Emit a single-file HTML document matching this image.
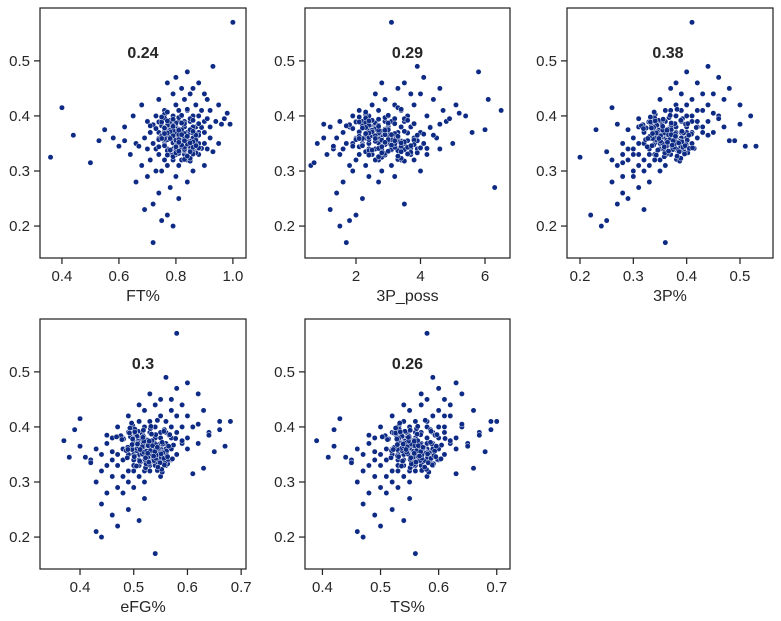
<!DOCTYPE html>
<html><head><meta charset="utf-8">
<style>
html,body{margin:0;padding:0;background:#fff;}
svg{display:block;font-family:"Liberation Sans",sans-serif;}
</style></head>
<body>
<svg id="chart" width="781" height="621" viewBox="0 0 781 621"></svg>
<script>
const yVals=[0.57,0.17,0.49,0.48,0.47,0.46,0.46,0.45,0.45,0.44,
0.44,0.44,0.43,0.43,0.43,0.42,0.42,0.42,0.42,0.41,
0.41,0.41,0.41,0.41,0.40,0.40,0.40,0.40,0.40,0.40,
0.39,0.39,0.39,0.39,0.39,0.39,0.39,0.38,0.38,0.38,
0.38,0.38,0.38,0.38,0.38,0.37,0.37,0.37,0.37,0.37,
0.37,0.37,0.37,0.37,0.36,0.36,0.36,0.36,0.36,0.36,
0.36,0.36,0.36,0.36,0.35,0.35,0.35,0.35,0.35,0.35,
0.35,0.35,0.35,0.35,0.34,0.34,0.34,0.34,0.34,0.34,
0.34,0.34,0.33,0.33,0.33,0.33,0.33,0.33,0.33,0.32,
0.32,0.32,0.32,0.32,0.31,0.31,0.31,0.31,0.30,0.30,
0.30,0.29,0.29,0.28,0.28,0.27,0.26,0.25,0.24,0.23,
0.22,0.21,0.20,0.415,0.395,0.375,0.355,0.345,0.325,0.365,
0.385,0.405,0.335,0.315,0.355,0.365,0.375,0.345,0.385,0.395,
0.363,0.338,0.355,0.371,0.349,0.386,0.365,0.342,0.376,0.358,
0.321,0.372,0.344,0.395,0.357,0.368,0.333,0.381,0.362,0.347,
0.376,0.354,0.391,0.366,0.343,0.359,0.385,0.337,0.374,0.351,
0.362,0.346,0.403,0.369,0.329,0.378,0.355,0.387,0.341,0.364,
0.373,0.339,0.352,0.382,0.367,0.326,0.358,0.392,0.345,0.371,
0.357,0.378,0.334,0.361,0.349,0.389,0.366,0.341,0.376,0.353,
0.364,0.397,0.359,0.318,0.372,0.347,0.384,0.356,0.369,0.337,
0.412,0.351,0.375,0.363,0.343,0.388,0.332,0.368,0.354,0.379,
0.346,0.361,0.394,0.323,0.371,0.357,0.382,0.338,0.365,0.348,
0.376,0.354,0.407,0.362,0.331,0.374,0.345,0.389,0.352,0.367,
0.339,0.383,0.348,0.369,0.357,0.401,0.335,0.362,0.379,0.343,
0.366,0.396,0.353,0.374,0.327,0.359,0.387,0.342,0.371,0.356,
0.364,0.349,0.378,0.392,0.333,0.369,0.357,0.346,0.383,0.361,
0.338,0.374,0.351,0.398,0.366,0.341,0.386,0.329,0.355,0.377,
0.344,0.363,0.391,0.336,0.372,0.359,0.347,0.381,0.368,0.352];
const ftVals=[1.0,0.72,0.93,0.84,0.80,0.88,0.77,0.86,0.82,0.90,0.79,0.85,
0.74,0.91,0.83,0.87,0.80,0.68,0.95,0.81,0.89,0.76,
0.84,0.92,0.65,0.79,0.86,0.82,0.88,0.73,0.90,0.83,
0.78,0.85,0.70,0.94,0.81,0.87,0.76,0.83,0.89,0.62,
0.80,0.86,0.92,0.74,0.84,0.79,0.88,0.71,0.82,0.90,
0.77,0.85,0.81,0.58,0.83,0.87,0.75,0.92,0.80,0.69,
0.86,0.78,0.84,0.90,0.72,0.82,0.88,0.76,0.95,0.80,
0.66,0.84,0.79,0.87,0.73,0.81,0.91,0.77,0.85,0.70,
0.83,0.78,0.88,0.74,0.80,0.64,0.86,0.76,0.82,0.71,
0.79,0.84,0.68,0.90,0.77,0.81,0.73,0.86,0.75,0.80,
0.70,0.84,0.66,0.78,0.74,0.81,0.72,0.69,0.77,0.75,
0.79,0.40,0.97,0.55,0.53,0.60,0.36,0.44,0.99,0.98,
0.93,0.50,0.62,0.88,0.85,0.67,0.96,0.91,
0.79,0.82,0.84,0.77,0.80,0.83,0.75,0.86,0.81,0.78,
0.83,0.79,0.74,0.85,0.77,0.82,0.87,0.78,0.84,0.76,
0.81,0.85,0.78,0.80,0.82,0.74,0.88,0.83,0.77,0.81,
0.80,0.84,0.76,0.86,0.79,0.73,0.82,0.80,0.89,0.81,
0.77,0.83,0.80,0.75,0.87,0.79,0.82,0.78,0.85,0.76,
0.82,0.79,0.86,0.77,0.84,0.74,0.81,0.88,0.80,0.83,
0.78,0.81,0.76,0.85,0.80,0.83,0.72,0.87,0.82,0.77,
0.84,0.79,0.82,0.75,0.86,0.78,0.81,0.83,0.80,0.89,
0.76,0.83,0.79,0.85,0.78,0.82,0.71,0.80,0.87,0.81,
0.79,0.84,0.77,0.81,0.86,0.78,0.80,0.75,0.84,0.79,
0.83,0.77,0.87,0.80,0.74,0.82,0.85,0.79,0.76,0.83,
0.81,0.76,0.86,0.79,0.84,0.75,0.82,0.88,0.78,0.80,
0.79,0.84,0.76,0.86,0.80,0.77,0.81,0.87,0.79,0.83,
0.78,0.81,0.85,0.75,0.82,0.80,0.88,0.77,0.83,0.73,
0.80,0.84,0.77,0.81,0.86,0.78,0.82,0.79,0.76,0.81];
const possVals=[3.1,1.7,3.9,5.8,4.1,3.5,2.8,4.6,3.3,4.0,2.6,3.7,
2.9,4.4,6.1,3.2,2.5,3.8,5.1,2.1,3.4,4.7,
2.7,6.5,3.0,1.9,4.2,3.6,2.4,5.4,3.1,2.0,
3.5,4.8,2.2,2.9,1.5,3.7,2.6,4.3,1.2,3.0,
2.5,3.4,1.8,4.0,2.8,2.1,5.6,3.3,2.4,1.6,
3.6,2.9,2.0,4.5,1.4,3.1,2.6,3.8,1.0,2.3,
3.2,2.7,5.0,1.7,2.4,3.5,0.8,2.9,4.1,2.2,
3.0,1.9,2.6,3.9,1.3,2.4,4.6,2.8,1.6,3.3,
2.1,2.9,3.7,1.5,2.5,4.2,1.1,2.7,3.4,2.0,
2.6,3.8,1.8,2.3,3.1,0.6,2.8,4.0,1.9,2.4,
3.2,1.6,2.7,6.3,1.4,2.2,3.5,1.2,2.0,1.8,
1.5,3.3,4.9,2.5,3.6,1.9,2.8,4.4,1.0,5.2,
2.3,0.7,3.9,2.5,6.0,1.3,4.6,3.2,
2.8,3.1,3.4,2.5,2.9,3.2,2.3,3.7,3.0,2.6,
3.3,2.7,2.1,3.5,2.4,3.0,3.9,2.6,3.2,2.2,
2.9,3.4,2.5,2.8,3.1,2.0,3.8,3.3,2.4,3.0,
2.7,3.2,2.3,3.6,2.9,1.9,3.3,2.6,4.0,3.1,
2.4,3.5,2.9,2.2,4.1,2.7,3.1,2.5,3.4,2.1,
3.0,2.6,3.7,2.4,3.2,2.0,2.8,4.2,2.7,3.3,
2.5,2.9,2.2,3.5,2.8,3.1,1.8,3.8,2.9,2.4,
3.4,2.7,3.0,2.1,3.6,2.3,2.9,3.2,2.6,4.3,
2.2,3.0,2.7,3.4,2.5,3.1,1.7,2.8,3.9,2.9,
2.6,3.3,2.3,3.0,3.6,2.5,2.8,2.1,3.2,2.7,
3.1,2.4,3.8,2.7,2.0,3.0,3.4,2.6,2.3,3.2,
2.9,2.3,3.5,2.7,3.3,2.1,3.0,4.0,2.5,2.8,
2.6,3.2,2.2,3.6,2.8,2.4,3.0,3.7,2.7,3.3,
2.5,2.9,3.4,2.1,3.1,2.7,3.8,2.4,3.2,1.9,
2.8,3.3,2.4,3.0,3.5,2.6,3.1,2.7,2.3,2.9];
const p3Vals=[0.41,0.36,0.44,0.40,0.46,0.38,0.42,0.48,0.37,0.43,0.39,0.45,
0.41,0.35,0.47,0.40,0.44,0.38,0.50,0.36,0.42,0.39,
0.43,0.37,0.41,0.46,0.34,0.40,0.52,0.38,0.42,0.35,
0.39,0.44,0.36,0.41,0.33,0.43,0.38,0.40,0.47,0.31,
0.37,0.42,0.35,0.39,0.45,0.34,0.40,0.36,0.43,0.38,
0.32,0.41,0.37,0.35,0.39,0.30,0.42,0.36,0.34,0.38,
0.33,0.40,0.35,0.37,0.31,0.39,0.36,0.28,0.41,0.34,
0.37,0.32,0.35,0.38,0.30,0.36,0.33,0.39,0.29,0.35,
0.34,0.31,0.36,0.28,0.33,0.37,0.30,0.35,0.32,0.26,
0.34,0.29,0.36,0.31,0.33,0.27,0.35,0.30,0.32,0.28,
0.30,0.33,0.26,0.31,0.28,0.29,0.27,0.32,0.22,0.25,
0.24,0.26,0.31,0.23,0.49,0.53,0.20,0.38,0.50,0.45,
0.25,0.28,0.48,0.44,0.29,0.51,0.27,0.46,
0.355,0.372,0.385,0.348,0.362,0.378,0.335,0.395,0.366,0.346,
0.381,0.357,0.326,0.392,0.343,0.369,0.402,0.352,0.377,0.338,
0.364,0.388,0.347,0.358,0.373,0.331,0.398,0.383,0.349,0.367,
0.356,0.375,0.341,0.394,0.361,0.324,0.379,0.354,0.405,0.369,
0.342,0.384,0.365,0.334,0.409,0.358,0.372,0.347,0.389,0.337,
0.371,0.353,0.396,0.344,0.378,0.329,0.363,0.414,0.355,0.381,
0.348,0.367,0.336,0.387,0.357,0.374,0.318,0.401,0.362,0.345,
0.382,0.354,0.371,0.331,0.393,0.342,0.364,0.379,0.351,0.418,
0.335,0.372,0.356,0.389,0.346,0.376,0.315,0.359,0.404,0.366,
0.353,0.379,0.339,0.368,0.396,0.348,0.362,0.332,0.383,0.357,
0.374,0.344,0.399,0.358,0.323,0.369,0.386,0.352,0.338,0.377,
0.366,0.340,0.391,0.355,0.382,0.327,0.371,0.411,0.345,0.363,
0.351,0.377,0.334,0.389,0.359,0.343,0.368,0.397,0.354,0.379,
0.346,0.363,0.385,0.332,0.371,0.357,0.402,0.343,0.375,0.319,
0.358,0.379,0.341,0.366,0.391,0.348,0.373,0.355,0.336,0.364];
const efgVals=[0.58,0.54,0.56,0.60,0.58,0.53,0.62,0.55,0.57,0.51,0.59,0.54,
0.63,0.52,0.57,0.60,0.55,0.49,0.58,0.53,0.66,0.56,
0.51,0.68,0.54,0.59,0.47,0.57,0.52,0.61,0.55,0.50,
0.56,0.53,0.64,0.49,0.58,0.52,0.55,0.46,0.60,0.54,
0.51,0.57,0.48,0.55,0.53,0.62,0.50,0.56,0.45,0.59,
0.52,0.54,0.49,0.57,0.51,0.43,0.55,0.53,0.60,0.48,
0.52,0.56,0.50,0.54,0.47,0.58,0.51,0.53,0.44,0.55,
0.49,0.52,0.57,0.46,0.53,0.50,0.55,0.42,0.51,0.48,
0.54,0.50,0.47,0.53,0.45,0.51,0.56,0.49,0.52,0.44,
0.50,0.53,0.46,0.48,0.51,0.55,0.43,0.49,0.52,0.47,
0.50,0.45,0.48,0.52,0.44,0.49,0.46,0.51,0.47,0.43,
0.44,0.40,0.39,0.37,0.65,0.41,0.63,0.67,0.45,0.62,
0.42,0.61,0.46,0.40,0.59,0.38,0.64,0.66,
0.523,0.534,0.546,0.507,0.518,0.541,0.496,0.553,0.527,0.512,
0.544,0.515,0.488,0.557,0.506,0.531,0.563,0.519,0.538,0.502,
0.526,0.552,0.509,0.521,0.536,0.487,0.566,0.543,0.511,0.529,
0.517,0.545,0.498,0.554,0.524,0.481,0.539,0.516,0.571,0.533,
0.505,0.547,0.528,0.494,0.574,0.522,0.537,0.508,0.551,0.499,
0.532,0.518,0.558,0.506,0.542,0.492,0.527,0.564,0.514,0.545,
0.509,0.531,0.497,0.553,0.521,0.536,0.476,0.561,0.525,0.513,
0.544,0.516,0.534,0.489,0.556,0.503,0.528,0.541,0.519,0.578,
0.501,0.533,0.518,0.552,0.507,0.539,0.468,0.522,0.565,0.531,
0.515,0.546,0.496,0.529,0.557,0.508,0.526,0.492,0.543,0.521,
0.538,0.506,0.562,0.517,0.486,0.532,0.549,0.514,0.499,0.541,
0.527,0.502,0.554,0.519,0.545,0.489,0.533,0.572,0.508,0.524,
0.516,0.542,0.498,0.556,0.523,0.507,0.531,0.563,0.518,0.546,
0.511,0.529,0.551,0.493,0.535,0.521,0.567,0.505,0.539,0.478,
0.522,0.544,0.502,0.528,0.553,0.512,0.537,0.517,0.497,0.526];
const tsVals=[0.58,0.56,0.59,0.63,0.60,0.57,0.64,0.58,0.61,0.54,0.62,0.57,
0.66,0.55,0.60,0.62,0.59,0.52,0.61,0.56,0.69,0.58,
0.54,0.70,0.58,0.61,0.50,0.60,0.55,0.64,0.57,0.53,
0.59,0.56,0.67,0.52,0.61,0.55,0.58,0.49,0.63,0.56,
0.54,0.60,0.51,0.58,0.55,0.65,0.53,0.59,0.48,0.62,
0.55,0.57,0.52,0.60,0.54,0.46,0.58,0.56,0.63,0.51,
0.55,0.59,0.53,0.57,0.50,0.61,0.54,0.56,0.47,0.58,
0.52,0.55,0.60,0.49,0.56,0.53,0.58,0.45,0.54,0.51,
0.57,0.53,0.50,0.56,0.48,0.54,0.59,0.52,0.55,0.47,
0.53,0.56,0.49,0.51,0.54,0.58,0.46,0.52,0.55,0.50,
0.53,0.48,0.51,0.55,0.47,0.52,0.49,0.54,0.50,0.46,
0.47,0.43,0.42,0.39,0.68,0.44,0.66,0.65,0.48,0.64,
0.45,0.63,0.49,0.42,0.62,0.41,0.67,0.69,
0.553,0.561,0.574,0.538,0.556,0.569,0.527,0.582,0.558,0.541,
0.571,0.549,0.518,0.586,0.537,0.563,0.591,0.546,0.575,0.529,
0.558,0.579,0.535,0.552,0.566,0.521,0.594,0.573,0.543,0.559,
0.551,0.568,0.532,0.588,0.554,0.514,0.572,0.547,0.602,0.562,
0.539,0.576,0.557,0.528,0.605,0.551,0.563,0.542,0.581,0.533,
0.564,0.548,0.585,0.536,0.571,0.523,0.556,0.598,0.549,0.574,
0.541,0.562,0.529,0.583,0.552,0.567,0.508,0.593,0.557,0.538,
0.577,0.547,0.564,0.524,0.587,0.535,0.558,0.569,0.545,0.611,
0.531,0.566,0.551,0.579,0.539,0.572,0.503,0.553,0.596,0.561,
0.549,0.574,0.533,0.562,0.589,0.542,0.556,0.526,0.578,0.552,
0.568,0.537,0.592,0.553,0.519,0.564,0.582,0.546,0.531,0.571,
0.559,0.532,0.584,0.548,0.576,0.522,0.563,0.604,0.541,0.557,
0.546,0.571,0.528,0.587,0.553,0.539,0.562,0.595,0.549,0.573,
0.538,0.558,0.581,0.526,0.565,0.551,0.597,0.536,0.569,0.512,
0.552,0.573,0.534,0.561,0.586,0.544,0.567,0.548,0.529,0.558];
const panelTitles=["FT%","3P_poss","3P%","eFG%","TS%"];
const corrLabels=["0.24","0.29","0.38","0.3","0.26"];
const xTickSets=[[0.4,0.6,0.8,1.0],[2,4,6],[0.2,0.3,0.4,0.5],[0.4,0.5,0.6,0.7],[0.4,0.5,0.6,0.7]];
const xTickLabels=[["0.4","0.6","0.8","1.0"],["2","4","6"],["0.2","0.3","0.4","0.5"],["0.4","0.5","0.6","0.7"],["0.4","0.5","0.6","0.7"]];
const yTicks=[0.2,0.3,0.4,0.5];
const yTickLabels=["0.2","0.3","0.4","0.5"];
const xSeries=[ftVals,possVals,p3Vals,efgVals,tsVals];
const xDomains=[[0.323,1.046],[0.419,6.775],[0.1756,0.5619],[0.3255,0.709],[0.370,0.7228]];
const yDomain=[0.142,0.596];

const layout=[[40,246,8,258],[305,510,8,258],[567,773,8,258],[40,246,319,569],[305,510,319,569]];
const NS="http://www.w3.org/2000/svg";
const svg=document.getElementById('chart');
function mk(tag,attrs,parent){const e=document.createElementNS(NS,tag);for(const k in attrs)e.setAttribute(k,attrs[k]);parent.appendChild(e);return e;}
const col="#262626";
layout.forEach((L,p)=>{
  const [x0,x1,y0,y1]=L;
  const g=mk('g',{},svg);
  
  
  const xs=v=>x0+(v-xDomains[p][0])/(xDomains[p][1]-xDomains[p][0])*(x1-x0);
  const ys=v=>y1-(v-yDomain[0])/(yDomain[1]-yDomain[0])*(y1-y0);
  const pts=mk('g',{},g);
  
  
  xSeries[p].forEach((xv,i)=>{
    const c=mk('circle',{cx:xs(xv).toFixed(2),cy:ys(yVals[i]).toFixed(2),r:2.7,fill:"#0d2a85",stroke:"#fff","stroke-width":0.5},pts);
    
    
  });
  const fr=mk('rect',{x:x0,y:y0,width:x1-x0,height:y1-y0,fill:"none",stroke:col,"stroke-width":1.25},g);
  
  
  yTicks.forEach((t,i)=>{
    const y=ys(t);
    mk('line',{x1:x0-6,x2:x0,y1:y,y2:y,stroke:col,"stroke-width":1.25},g);
    const tx=mk('text',{x:x0-10,y:y+5,"text-anchor":"end","font-size":15,fill:col},g);
    tx.textContent=yTickLabels[i];
    
    
  });
  xTickSets[p].forEach((t,i)=>{
    const x=xs(t);
    mk('line',{x1:x,x2:x,y1:y1,y2:y1+6,stroke:col,"stroke-width":1.25},g);
    const tx=mk('text',{x:x,y:y1+23,"text-anchor":"middle","font-size":15,fill:col},g);
    tx.textContent=xTickLabels[p][i];
    
    
  });
  const ti=mk('text',{x:(x0+x1)/2,y:y1+43,"text-anchor":"middle","font-size":16,fill:col},g);
  ti.textContent=panelTitles[p];
  
  
  const an=mk('text',{x:(x0+x1)/2+(p==2?-2:0),y:y0+50,"text-anchor":"middle","font-size":16,"font-weight":"bold",fill:col},g);
  an.textContent=corrLabels[p];
  
  
});
</script>
</body></html>
